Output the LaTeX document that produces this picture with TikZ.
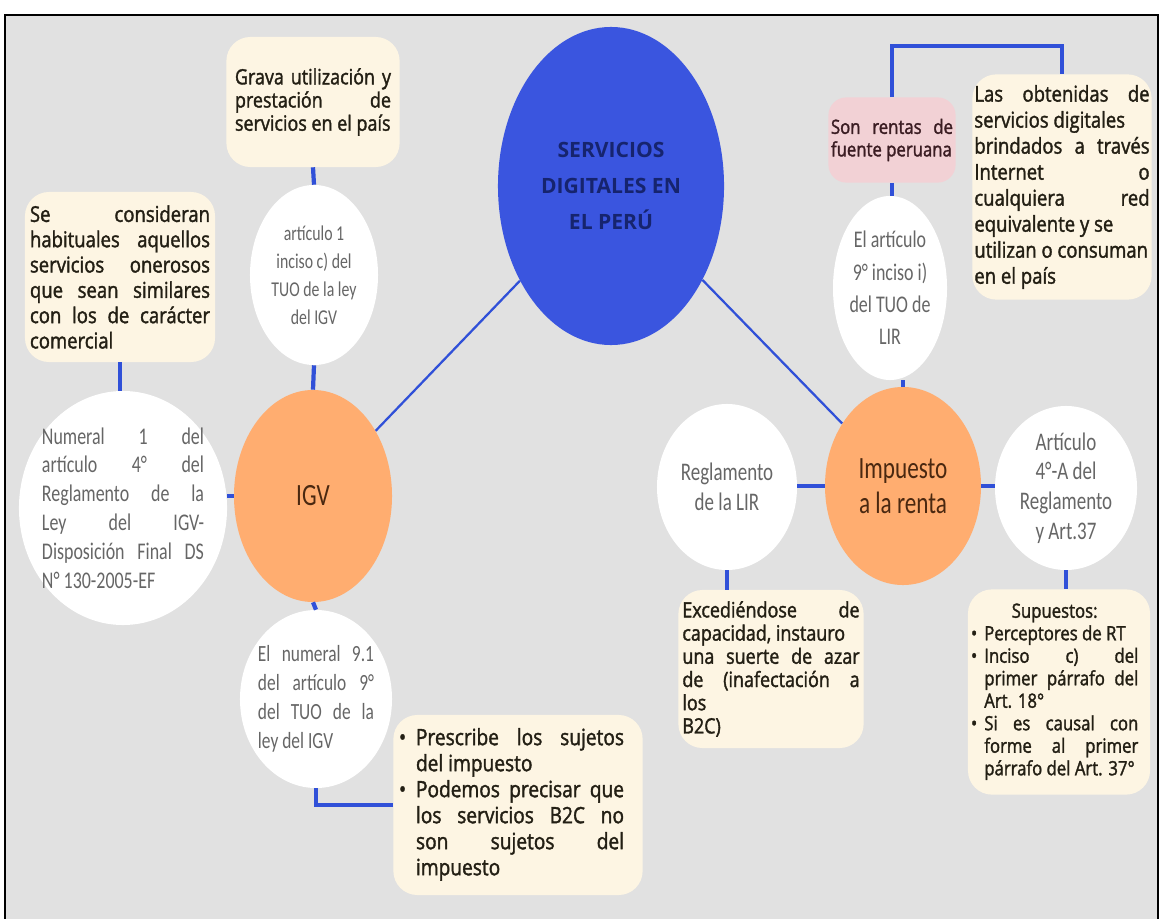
\documentclass[tikz,border=0pt]{standalone}
\usepackage{fontspec}
\setmainfont{Open Sans}
\newfontfamily\boxfont{Open Sans}[FakeStretch=0.85,FakeBold=1.6]
\newfontfamily\thinfont{Carlito}[FakeStretch=0.75]
\usetikzlibrary{shapes.geometric}

\definecolor{panel}{HTML}{E1E1E1}
\definecolor{deepblue}{HTML}{3A55DF}
\definecolor{navytext}{HTML}{16246E}
\definecolor{peach}{HTML}{FFAD70}
\definecolor{cream}{HTML}{FDF5E3}
\definecolor{rose}{HTML}{F2D1D5}
\definecolor{linkblue}{HTML}{3050D8}
\definecolor{boxtext}{HTML}{231F14}
\definecolor{elltext}{HTML}{666666}
\definecolor{peachtext}{HTML}{4A2810}
\definecolor{rosetext}{HTML}{3A1C22}

% one justified line of a box
\newcommand{\jl}[1]{{\spaceskip=0pt\xspaceskip=0pt\makebox[\hsize][s]{#1}}}

\begin{document}
\begin{tikzpicture}[x=0.025cm, y=-0.025cm,
    note/.style={rectangle, rounded corners=0.6cm, fill=cream, text=boxtext,
      font=\boxfont\fontsize{15.5}{18}\selectfont, align=flush left, inner sep=0pt},
    bubble/.style={ellipse, fill=white, text=elltext, inner sep=-0.5cm, align=center},
    topic/.style={ellipse, fill=peach, text=peachtext,
      font=\thinfont\fontsize{22}{25}\selectfont, align=center, inner sep=0pt},
    stub/.style={linkblue, line width=3pt},
    link/.style={linkblue, line width=1.6pt}]

    % page and grey panel
    \useasboundingbox (0,0) rectangle (1163,919);
    \fill[panel] (5,15) rectangle (1158,919);
    \draw[line width=1.3pt] (5,919) -- (5,15) -- (1158,15) -- (1158,919);

    % centre
    \node[ellipse, fill=deepblue, minimum width=5.65cm, minimum height=7.95cm, inner sep=0pt,
      text=navytext, font=\bfseries\fontsize{15}{25.5}\selectfont, align=center]
      (central) at (611,186) {SERVICIOS\\DIGITALES EN\\EL PERÚ};

    % IGV branch
    \node[topic, minimum width=3.95cm, minimum height=5.3cm] (igv) at (313,496) {IGV};
    \node[note, minimum width=4.33cm, minimum height=3.25cm, text width=3.9cm,
      font=\boxfont\fontsize{15}{16.5}\selectfont] (grava) at (313,102)
      {\jl{Grava utilización y}\\\jl{prestación de}\\servicios en el país};
    \node[bubble, minimum width=3.2cm, minimum height=4.5cm, font=\thinfont\fontsize{15}{20}\selectfont]
      (art1) at (314,275) {artículo 1\\inciso c) del\\TUO de la ley\\del IGV};
    \node[note, minimum width=4.75cm, minimum height=4.25cm, text width=4.5cm] (habit) at (120,277)
      {\jl{Se consideran}\\\jl{habituales aquellos}\\\jl{servicios onerosos}\\\jl{que sean similares}\\\jl{con los de carácter}\\comercial};
    \node[bubble, minimum width=5.2cm, minimum height=5.85cm, text width=4.05cm, align=flush left,
      font=\thinfont\fontsize{17}{20.5}\selectfont] (numeral) at (123,508)
      {\jl{Numeral 1 del}\\\jl{artículo 4° del}\\\jl{Reglamento de la}\\\jl{Ley del IGV-}\\\jl{Disposición Final DS}\\N° 130-2005-EF};
    \node[bubble, minimum width=3.8cm, minimum height=4.45cm, text width=2.9cm, align=flush left,
      font=\thinfont\fontsize{16.5}{20.5}\selectfont] (num91) at (316,699)
      {\jl{El numeral 9.1}\\\jl{del artículo 9°}\\\jl{del TUO de la}\\ley del IGV};
    \node[note, minimum width=6.23cm, minimum height=4.5cm, text width=5.95cm,
      font=\boxfont\fontsize{16}{18.5}\selectfont] (sujetos) at (518,805)
      {\begin{tabular}{@{}c@{\hspace{7pt}}p{5.2cm}@{}}
        \textbullet & \jl{Prescribe los sujetos}\newline del impuesto\\
        \textbullet & \jl{Podemos precisar que}\newline\jl{los servicios B2C no}\newline\jl{son sujetos del}\newline impuesto
      \end{tabular}};

    % renta branch
    \node[topic, minimum width=3.9cm, minimum height=4.95cm] (impuesto) at (903,486) {Impuesto\\a la renta};
    \node[note, rounded corners=0.45cm, fill=rose, text=rosetext, minimum width=3.18cm, minimum height=2.13cm,
      text width=3.05cm, font=\boxfont\fontsize{14}{16}\selectfont] (fuente) at (892,140)
      {\jl{Son rentas de}\\fuente peruana};
    \node[note, minimum width=4.48cm, minimum height=5.63cm, text width=4.38cm,
      font=\boxfont\fontsize{15.5}{18.5}\selectfont] (obten) at (1062,187)
      {\jl{Las obtenidas de}\\servicios digitales\\\jl{brindados a través}\\\jl{Internet o}\\\jl{cualquiera red}\\equivalente y se\\utilizan o consuman\\en el país};
    \node[bubble, minimum width=2.85cm, minimum height=4.6cm, font=\thinfont\fontsize{17}{23}\selectfont]
      (elart) at (890,288) {El artículo\\9° inciso i)\\del TUO de\\LIR};
    \node[bubble, minimum width=3.5cm, minimum height=4.15cm, font=\thinfont\fontsize{18}{21}\selectfont]
      (reglir) at (727,487) {Reglamento\\de la LIR};
    \node[bubble, minimum width=3.55cm, minimum height=4.1cm, font=\thinfont\fontsize{18}{21}\selectfont]
      (art4a) at (1066,488) {Artículo\\4°-A del\\Reglamento\\y Art.37};
    \node[note, minimum width=4.63cm, minimum height=3.95cm, text width=4.43cm,
      font=\boxfont\fontsize{15}{16.5}\selectfont] (exced) at (771,669)
      {\jl{Excediéndose de}\\capacidad, instauro\\\jl{una suerte de azar}\\\jl{de (inafectación a}\\los\\B2C)};
    \node[note, minimum width=4.55cm, minimum height=5.13cm, text width=4.4cm,
      font=\boxfont\fontsize{14}{16}\selectfont] (supu) at (1059,692)
      {\begin{tabular}{@{}c@{\hspace{5pt}}p{3.85cm}@{}}
        \multicolumn{2}{c}{Supuestos:}\\
        \textbullet & Perceptores de RT\\
        \textbullet & \jl{Inciso c) del}\newline\jl{primer párrafo del}\newline Art. 18°\\
        \textbullet & \jl{Si es causal con}\newline\jl{forme al primer}\newline párrafo del Art. 37°
      \end{tabular}};

    % connectors
    \draw[link] (igv) -- (central);
    \draw[link] (central) -- (impuesto);
    \draw[stub] (grava.south) -- (art1.north);
    \draw[stub] (art1.south) -- (igv.north);
    \draw[stub] (habit.south) -- (habit.south |- numeral.north);
    \draw[stub] (numeral.east |- igv.west) -- (igv.west);
    \draw[stub] (igv.south) -- (num91.north);
    \draw[stub] (num91.south) |- (sujetos.west);
    \draw[stub] (fuente.north) -- ++(0,-51) -| (obten.north);
    \draw[stub] (fuente.south) -- (fuente.south |- elart.north);
    \draw[stub] (impuesto.north) -- (impuesto.north |- elart.south);
    \draw[stub] (reglir.east |- impuesto.west) -- (impuesto.west);
    \draw[stub] (impuesto.east) -- (impuesto.east -| art4a.west);
    \draw[stub] (reglir.south) -- (reglir.south |- exced.north);
    \draw[stub] (art4a.south) -- (art4a.south |- supu.north);
\end{tikzpicture}
\end{document}
